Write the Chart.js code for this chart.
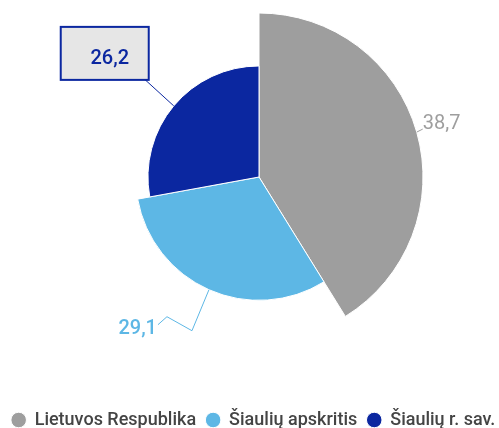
<!DOCTYPE html>
<html>
<head>
<meta charset="utf-8">
<script src="https://cdn.jsdelivr.net/npm/chart.js@4.4.1/dist/chart.umd.min.js"></script>
<style>
  html, body { margin: 0; padding: 0; background: #fff; }
  #wrap { width: 499px; height: 428px; }
</style>
</head>
<body>
<div id="wrap"><canvas id="pieChart"></canvas></div>
<script>
// ===== data =====
var categories = ['Lietuvos Respublika', 'Šiaulių apskritis', 'Šiaulių r. sav.'];
var values = [38.7, 29.1, 26.2];

var colors = ['#9e9e9e', '#5db7e5', '#0b27a0'];

// pie placement (like highcharts center/size)
var pieCenter = [259, 177];
var pieRadius = 164;

// label leader lines, offsets from the slice edge point
var labelStyles = [
    { path: [[0, 0], [6, -3]], text: [6, -8], align: 'left' },
    { path: [[0, 0], [-17, 41], [-42, 27], [-51, 35]], text: [-52, 39], align: 'right' },
    { path: [[0, 0], [-46, -42]], text: [-64, -47], align: 'center', box: [-113, -79, 88, 53] }
];

var total = values.reduce(function(a, b) { return a + b; }, 0);

function fmt(v) {
    return String(v).replace('.', ',');
}

var placePie = {
    id: 'placePie',
    afterLayout: function(chart) {
        var r = chart.scales.r;
        r.xCenter = pieCenter[0];
        r.yCenter = pieCenter[1];
        r.drawingArea = pieRadius;
    }
};

var sliceLabels = {
    id: 'sliceLabels',
    afterDatasetsDraw: function(chart) {
        var ctx = chart.ctx;
        var meta = chart.getDatasetMeta(0);
        meta.data.forEach(function(arc, i) {
            var st = labelStyles[i];
            var mid = (arc.startAngle + arc.endAngle) / 2;
            var ax = arc.x + Math.cos(mid) * arc.outerRadius;
            var ay = arc.y + Math.sin(mid) * arc.outerRadius;
            ctx.save();
            ctx.strokeStyle = colors[i];
            ctx.lineWidth = 1;
            ctx.beginPath();
            st.path.forEach(function(p, k) {
                if (k === 0) ctx.moveTo(ax + p[0], ay + p[1]);
                else ctx.lineTo(ax + p[0], ay + p[1]);
            });
            ctx.stroke();
            if (st.box) {
                ctx.fillStyle = '#e6e6e6';
                ctx.fillRect(ax + st.box[0], ay + st.box[1], st.box[2], st.box[3]);
                ctx.lineWidth = 2;
                ctx.strokeStyle = colors[i];
                ctx.strokeRect(ax + st.box[0], ay + st.box[1], st.box[2], st.box[3]);
            }
            ctx.fillStyle = colors[i];
            ctx.font = (i === 0 ? '400' : '500') + " 20px Roboto, 'Noto Sans', sans-serif";
            ctx.textAlign = st.align;
            ctx.textBaseline = 'middle';
            ctx.fillText(fmt(values[i]), ax + st.text[0], ay + st.text[1]);
            ctx.restore();
        });
    }
};

var ctx = document.getElementById('pieChart').getContext('2d');
new Chart(ctx, {
    type: 'polarArea',
    data: {
        labels: categories,
        datasets: [{
            data: values,
            backgroundColor: colors,
            borderColor: '#ffffff',
            borderWidth: 1,
            // slice angle proportional to value, radius too
            angle: function(c) { return c.raw / total * 360; }
        }]
    },
    options: {
        responsive: true,
        maintainAspectRatio: false,
        animation: false,
        // legend sits low and a bit wider than the canvas
        layout: { padding: { top: 0, bottom: -11, left: -1, right: -9 } },
        scales: {
            r: {
                min: 0,
                max: Math.max.apply(null, values),
                ticks: { display: false },
                grid: { display: false },
                angleLines: { display: false },
                pointLabels: { display: false }
            }
        },
        plugins: {
            legend: {
                position: 'bottom',
                labels: {
                    color: '#444444',
                    font: { size: 18, weight: '500', family: "Roboto, 'Noto Sans', sans-serif" },
                    usePointStyle: true,
                    pointStyle: 'circle',
                    boxWidth: 14,
                    boxHeight: 11,
                    padding: 10
                }
            },
            tooltip: { enabled: false }
        }
    },
    plugins: [placePie, sliceLabels]
});
</script>
</body>
</html>
